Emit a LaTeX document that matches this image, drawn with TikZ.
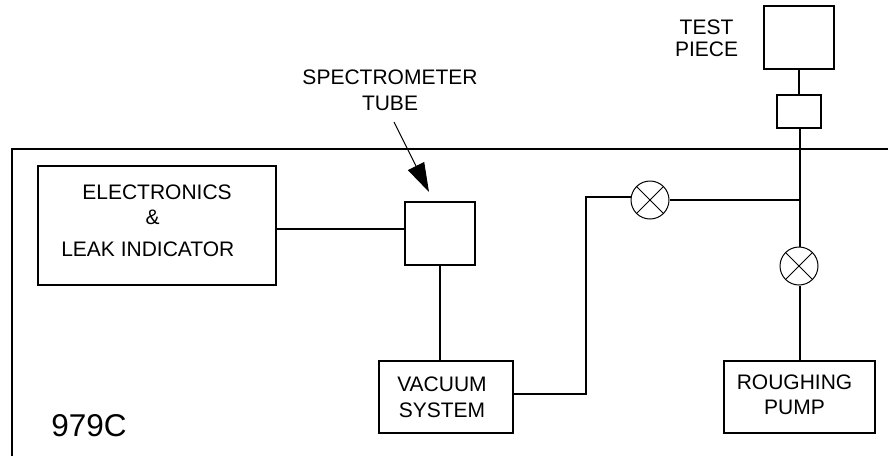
\documentclass[tikz,border=0pt]{standalone}
\usepackage{fontspec}
\setmainfont{Liberation Sans}
\usetikzlibrary{arrows.meta,positioning}
\tikzset{
  block/.style={draw, line width=1.7pt, inner sep=0pt},
  pipe/.style={line width=1.7pt},
  valve/.style={circle, draw, line width=1pt, minimum size=38pt, inner sep=0pt,
    path picture={
      \draw[line width=1pt] (path picture bounding box.north west) -- (path picture bounding box.south east);
      \draw[line width=1pt] (path picture bounding box.north east) -- (path picture bounding box.south west);
    }},
  label/.style={inner sep=0pt, align=center, font=\fontsize{21}{25}\selectfont},
}
\begin{document}
\begin{tikzpicture}[x=1pt, y=-1pt]
  \useasboundingbox (0,0) rectangle (888,456);

  % Cabinet outline - open at right and bottom
  \coordinate (framebl) at (12,456);
  \coordinate (frametl) at (12,149);
  \coordinate (frametr) at (888,149);
  \draw[pipe] (framebl) -- (frametl) -- (frametr);

  % Blocks
  \node[block, minimum width=238pt, minimum height=119pt] (electronics) at (157,225.5) {};
  \node[block, minimum width=70pt, minimum height=63pt] (tube) at (440,233.5) {};
  \node[block, minimum width=134pt, minimum height=72pt] (vacuum) at (446,397) {};
  \node[block, minimum width=151pt, minimum height=72pt] (roughing) at (799.5,397) {};
  \node[block, minimum width=70pt, minimum height=63pt] (testpiece) at (799,37.5) {};
  \node[block, minimum width=44pt, minimum height=33pt] (adapter) at (799,111.5) {};

  % Valves
  \node[valve] (valveone) at (650,200) {};
  \node[valve] (valvetwo) at (799,266) {};

  % Labels
  \node[label] (elecline) at (157,192) {ELECTRONICS};
  \node[label] (ampline) at (152.7,217) {\&};
  \node[label] (leakline) at (147.8,249) {LEAK INDICATOR};
  \node[label] (vacuumtext) at (442,397) {VACUUM\\[1pt]SYSTEM};
  \node[label] (roughingtext) at (794.5,394.5) {ROUGHING\\PUMP};
  \node[label] (testtext) at (706.5,38) {TEST\\[-3pt]PIECE};
  \node[label] (spectext) at (390,90) {SPECTROMETER\\[1pt]TUBE};
  \node[inner sep=0pt, font=\fontsize{31.5}{34}\selectfont] (model) at (89,426) {979C};

  % Connectors
  \coordinate (elecout) at (276,229);
  \coordinate (tee) at (800,200);
  \coordinate (vacbend) at (586,394);
  \coordinate (valvebend) at (586,197);
  \coordinate (arrowstart) at (394,122);
  \coordinate (arrowtip) at (429,192);
  \draw[pipe] (elecout) -- (elecout -| tube.west);
  \draw[pipe] (tube.south) -- (tube.south |- vacuum.north);
  \draw[pipe] (vacuum.east |- vacbend) -- (vacbend) -- (valvebend) -- (valveone.west |- valvebend);
  \draw[pipe] (valveone.east) -- (tee);
  \draw[pipe] (testpiece.south) -- (adapter.north);
  \draw[pipe] (adapter.south -| tee) -- (tee) -- (valvetwo.north -| tee);
  \draw[pipe] (valvetwo.south -| tee) -- (roughing.north -| tee);
  \draw[line width=1pt, -{Triangle[length=29pt, width=18pt]}] (arrowstart) -- (arrowtip);
\end{tikzpicture}
\end{document}
